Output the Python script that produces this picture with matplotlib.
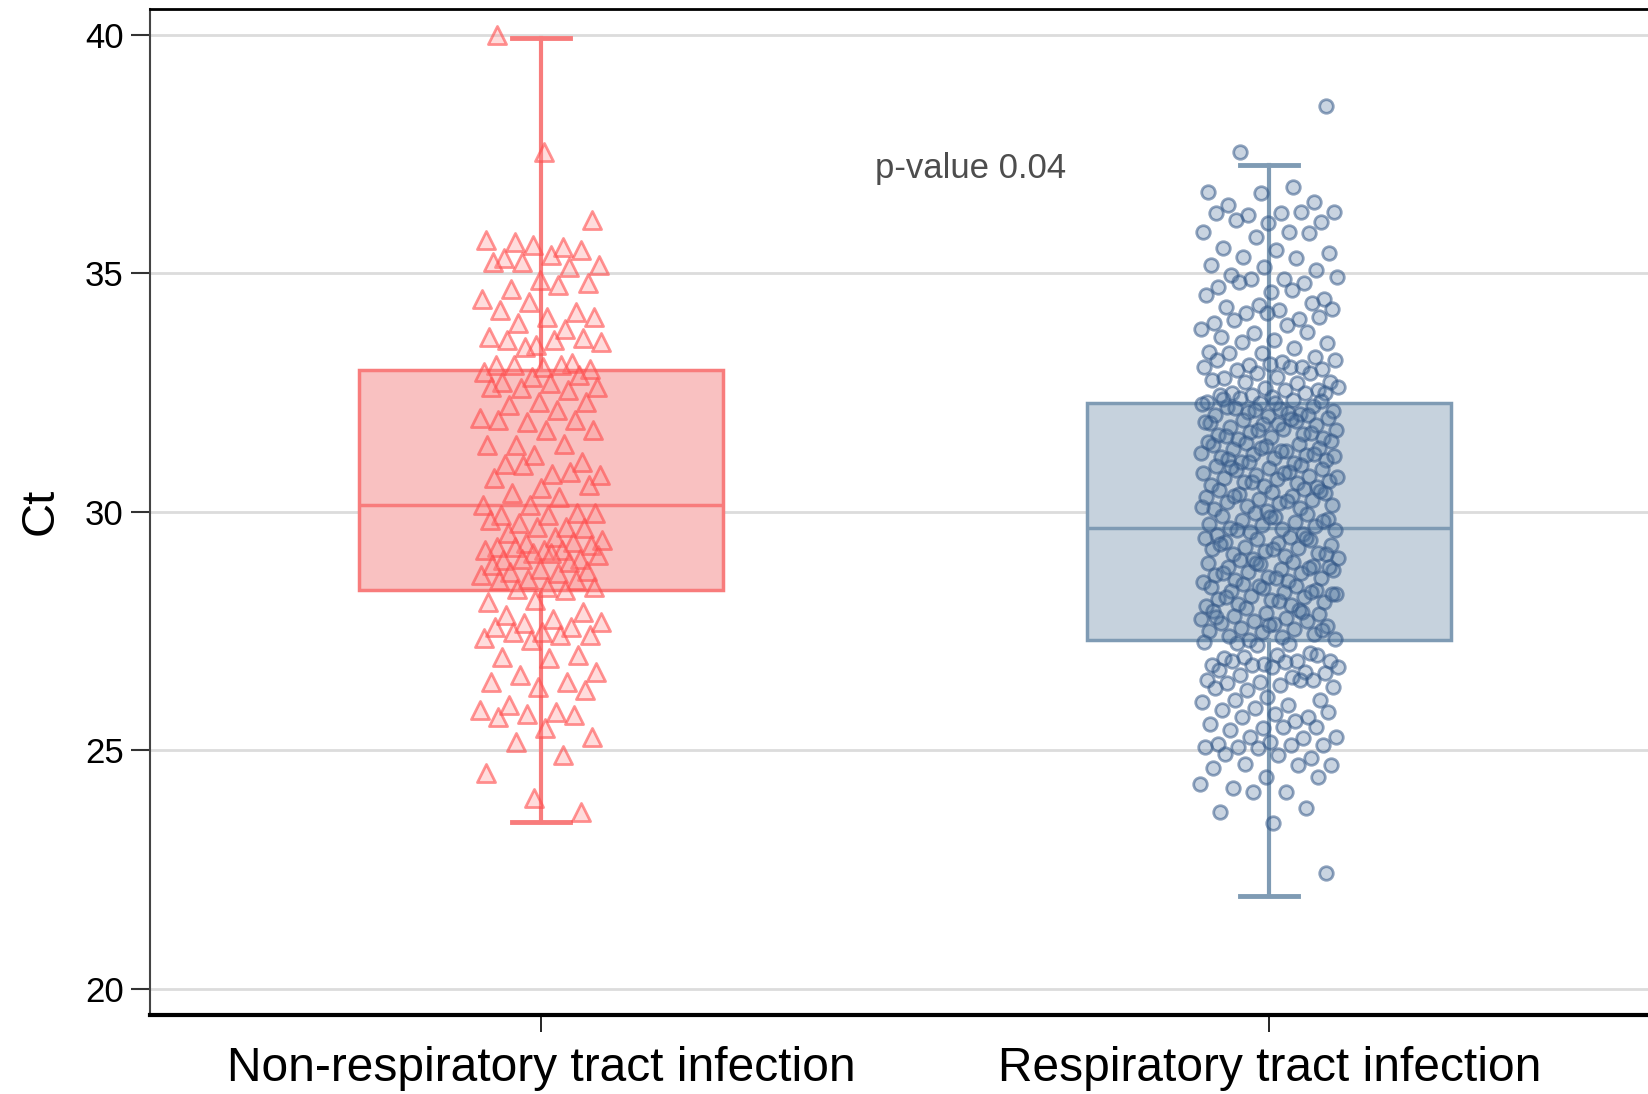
import matplotlib
matplotlib.use("Agg")
import numpy as np
import matplotlib.pyplot as plt

plt.rcParams['font.family'] = ['Liberation Sans', 'DejaVu Sans']

groups = ["Non-respiratory tract infection", "Respiratory tract infection"]

# box statistics
q1 = [28.37, 27.31]
med = [30.15, 29.65]
q3 = [32.97, 32.29]
whislo = [23.5, 21.94]
whishi = [39.93, 37.27]

# Ct values, non-respiratory (triangles)
ct_non = [
    40.0, 37.55, 36.12,
    35.66, 35.56, 35.7, 35.6, 35.49, 35.32, 35.38, 35.17, 35.24, 35.14, 35.24,
    34.86, 34.79, 34.68, 34.75, 34.47, 34.4, 34.19, 34.23, 34.09, 34.09,
    33.95, 33.84, 33.67, 33.49, 33.64, 33.6, 33.6, 33.56, 33.46, 33.11, 33.08,
    33.04, 33.0, 33.08, 33.08, 32.93, 32.83, 32.87, 32.73, 32.69, 32.62, 32.6,
    32.55, 32.62, 32.31, 32.31, 32.24, 32.13, 31.96, 31.89, 31.92, 31.92,
    31.71, 31.71, 31.4, 31.43, 31.4, 31.19, 31.05, 31.01, 30.8, 30.77, 30.98,
    30.84, 30.7, 30.49, 30.56, 30.39, 30.31, 30.14, 30.14, 29.97, 29.94,
    29.94, 29.97, 29.76, 29.69, 29.83, 29.69, 29.65, 29.55, 29.48, 29.41,
    29.34, 29.37, 29.27, 29.2, 29.3, 29.27, 29.2, 29.2, 29.13, 29.02, 28.99,
    29.13, 29.09, 29.02, 28.95, 28.88, 28.81, 28.76, 28.74, 28.71, 28.67,
    28.6, 28.57, 28.57, 28.43, 28.43, 28.39, 28.36, 28.11, 28.15, 27.9,
    27.83, 27.76, 27.69, 27.66, 27.59, 27.59, 27.48, 27.41, 27.48, 27.41,
    27.35, 27.31, 27.0, 26.96, 26.93, 26.65, 26.58, 26.44, 26.44, 26.33,
    26.26, 25.95, 25.81, 25.84, 25.77, 25.74, 25.7, 25.46, 25.28, 25.18,
    24.9, 24.52, 23.99, 23.71,
]

# Ct values, respiratory (circles)
ct_resp = [
    38.5, 37.55,
    36.81, 36.71, 36.68, 36.5, 36.43, 36.26, 36.29, 36.22, 36.29, 36.26,
    36.05, 36.08, 36.12, 35.87, 35.87, 35.77, 35.85, 35.52, 35.49, 35.42,
    35.35, 35.31, 35.17, 35.14, 35.07, 34.96, 34.89, 34.93, 34.89, 34.79,
    34.72, 34.61, 34.47, 34.82, 34.65, 34.54, 34.33, 34.37, 34.3, 34.23,
    34.26, 34.16, 34.05, 33.95, 34.16, 34.09, 34.02, 33.91, 33.84, 33.74,
    33.77, 33.67, 33.6, 33.53, 33.56, 33.43, 33.35, 33.32, 33.25, 33.32,
    33.14, 33.18, 33.08, 33.04, 33.18, 33.1, 33.0, 32.97, 33.04, 33.04,
    32.9, 32.9, 32.8, 32.83, 32.73, 32.73, 32.69, 32.76, 32.59, 32.55,
    32.48, 32.55, 32.62, 32.45, 32.48, 32.45, 32.41, 32.48,
    32.38, 32.35, 32.31, 32.27, 32.22, 32.2, 32.16, 32.12, 32.1, 32.05,
    32.03, 32.01, 32.33, 32.18, 32.08, 32.25, 32.14, 32.02, 32.36, 32.29,
    31.97, 31.93, 31.91, 31.86, 31.83, 31.81, 31.77, 31.74, 31.71, 31.67,
    31.63, 31.61, 31.57, 31.54, 31.52, 31.95, 31.88, 31.72, 31.65, 31.58,
    31.84, 31.48, 31.45, 31.42, 31.41, 31.37, 31.34, 31.31, 31.27, 31.24,
    31.21, 31.18, 31.15, 31.12, 31.08, 31.05, 31.02, 31.46, 31.33, 31.22,
    31.1, 31.28, 31.16, 31.04, 30.98, 30.95, 30.92, 30.9, 30.87, 30.84,
    30.81, 30.77, 30.74, 30.71, 30.68, 30.65, 30.62, 30.6, 30.57, 30.54,
    30.52, 30.93, 30.82, 30.72, 30.63, 30.48, 30.45, 30.42, 30.4, 30.37,
    30.34, 30.31, 30.27, 30.24, 30.21, 30.18, 30.15, 30.12, 30.08, 30.05,
    30.02, 30.44, 30.33, 30.22, 30.1, 29.98, 29.95, 29.92, 29.88, 29.85,
    29.82, 29.78, 29.75, 29.72, 29.7, 29.67, 29.64, 29.61, 29.57, 29.54,
    29.52, 29.9, 29.8, 29.62, 29.48, 29.45, 29.42, 29.4, 29.37, 29.34,
    29.31, 29.27, 29.24, 29.21, 29.17, 29.14, 29.11, 29.07, 29.04, 29.02,
    29.44, 29.32, 29.22, 29.12, 28.98, 28.95, 28.92, 28.9, 28.87, 28.84,
    28.81, 28.77, 28.74, 28.71, 28.67, 28.64, 28.61, 28.57, 28.54, 28.52,
    28.93, 28.82, 28.72, 28.62, 28.85, 28.48, 28.45, 28.42, 28.4, 28.37,
    28.34, 28.31, 28.27, 28.24, 28.21, 28.17, 28.14, 28.11, 28.07, 28.04,
    28.02, 28.44, 28.32, 28.22, 28.12, 28.28, 27.98, 27.95, 27.92, 27.88,
    27.85, 27.82, 27.78, 27.75, 27.72, 27.7, 27.67, 27.64, 27.61, 27.57,
    27.54, 27.5, 27.47, 27.44, 27.4, 27.37, 27.34, 27.31, 27.9, 27.8,
    27.62, 27.52,
    27.25, 27.22, 27.27, 27.2, 27.03, 26.93, 26.99, 26.88, 26.96, 26.88,
    26.78, 26.81, 26.99, 26.88, 26.85, 26.75, 26.78, 26.64, 26.68, 26.75,
    26.61, 26.57, 26.54, 26.47, 26.44, 26.47, 26.4, 26.36, 26.33, 26.26,
    26.47, 26.3, 26.12, 26.05, 26.05, 25.95, 26.02, 25.88, 25.7, 25.84,
    25.77, 25.81, 25.7, 25.62, 25.56, 25.46, 25.49, 25.42, 25.49, 25.28,
    25.28, 25.25, 25.14, 25.18, 25.11, 25.07, 25.11, 25.07, 25.04, 24.83,
    24.93, 24.9, 24.69, 24.72, 24.69, 24.62, 24.44, 24.44, 24.2, 24.13,
    24.3, 24.13, 23.78, 23.71, 23.47, 22.42,
]

box_face = ["#f9c1c1", "#c6d2dd"]
box_edge = ["#f87c7c", "#7f9bb4"]
pt_face = [(1.0, 0.55, 0.55, 0.3), (0.30, 0.45, 0.62, 0.3)]
pt_edge = [(1.0, 0.30, 0.30, 0.6), (0.20, 0.34, 0.53, 0.55)]
markers = ["^", "o"]
sizes = [170, 95]
spread = [0.085, 0.095]
start = [3, 5]

fig = plt.figure(figsize=(16.48, 10.94), dpi=100)
ax = fig.add_axes([0.091, 0.0722, 0.909, 0.920])

for i in range(2):
    st = dict(med=med[i], q1=q1[i], q3=q3[i],
              whislo=whislo[i], whishi=whishi[i], fliers=[])
    ax.bxp([st], positions=[i], widths=0.5, capwidths=0.08,
           patch_artist=True, manage_ticks=False,
           boxprops=dict(facecolor=box_face[i], edgecolor=box_edge[i], linewidth=2.5),
           medianprops=dict(color=box_edge[i], linewidth=2.5),
           whiskerprops=dict(color=box_edge[i], linewidth=3),
           capprops=dict(color=box_edge[i], linewidth=3.5))

# points spread sideways around each box centre
for i, vals in enumerate([ct_non, ct_resp]):
    vals = np.array(vals)
    k = np.arange(len(vals)) + start[i]
    offs = -((k * 0.6180339887) % 1.0 - 0.5) * 2 * spread[i]
    ax.scatter(i + offs, vals, marker=markers[i], s=sizes[i],
               facecolors=pt_face[i], edgecolors=pt_edge[i],
               linewidths=2, zorder=3)

ax.text(0.459, 37.2, "p-value 0.04", fontsize=25, color="#4d4d4d",
        ha="left", va="center")

ax.set_xlim(-0.537, 1.52)
ax.set_ylim(19.45, 40.55)
ax.set_yticks([20, 25, 30, 35, 40])
ax.set_xticks([0, 1])
ax.set_xticklabels(groups)
ax.set_ylabel("Ct", fontsize=34, labelpad=16)
ax.yaxis.grid(True, color="#dcdcdc", linewidth=2)
ax.set_axisbelow(True)

ax.tick_params(axis="y", labelsize=25, length=14, width=1.5, color="#333333", pad=5)
ax.tick_params(axis="x", labelsize=34.5, length=12, width=1.2, pad=10)

ax.spines["right"].set_visible(False)
ax.spines["top"].set_linewidth(2)
ax.spines["left"].set_linewidth(1.5)
ax.spines["left"].set_color("#444444")
ax.spines["bottom"].set_linewidth(3)

fig.savefig("out.png", dpi=100)
